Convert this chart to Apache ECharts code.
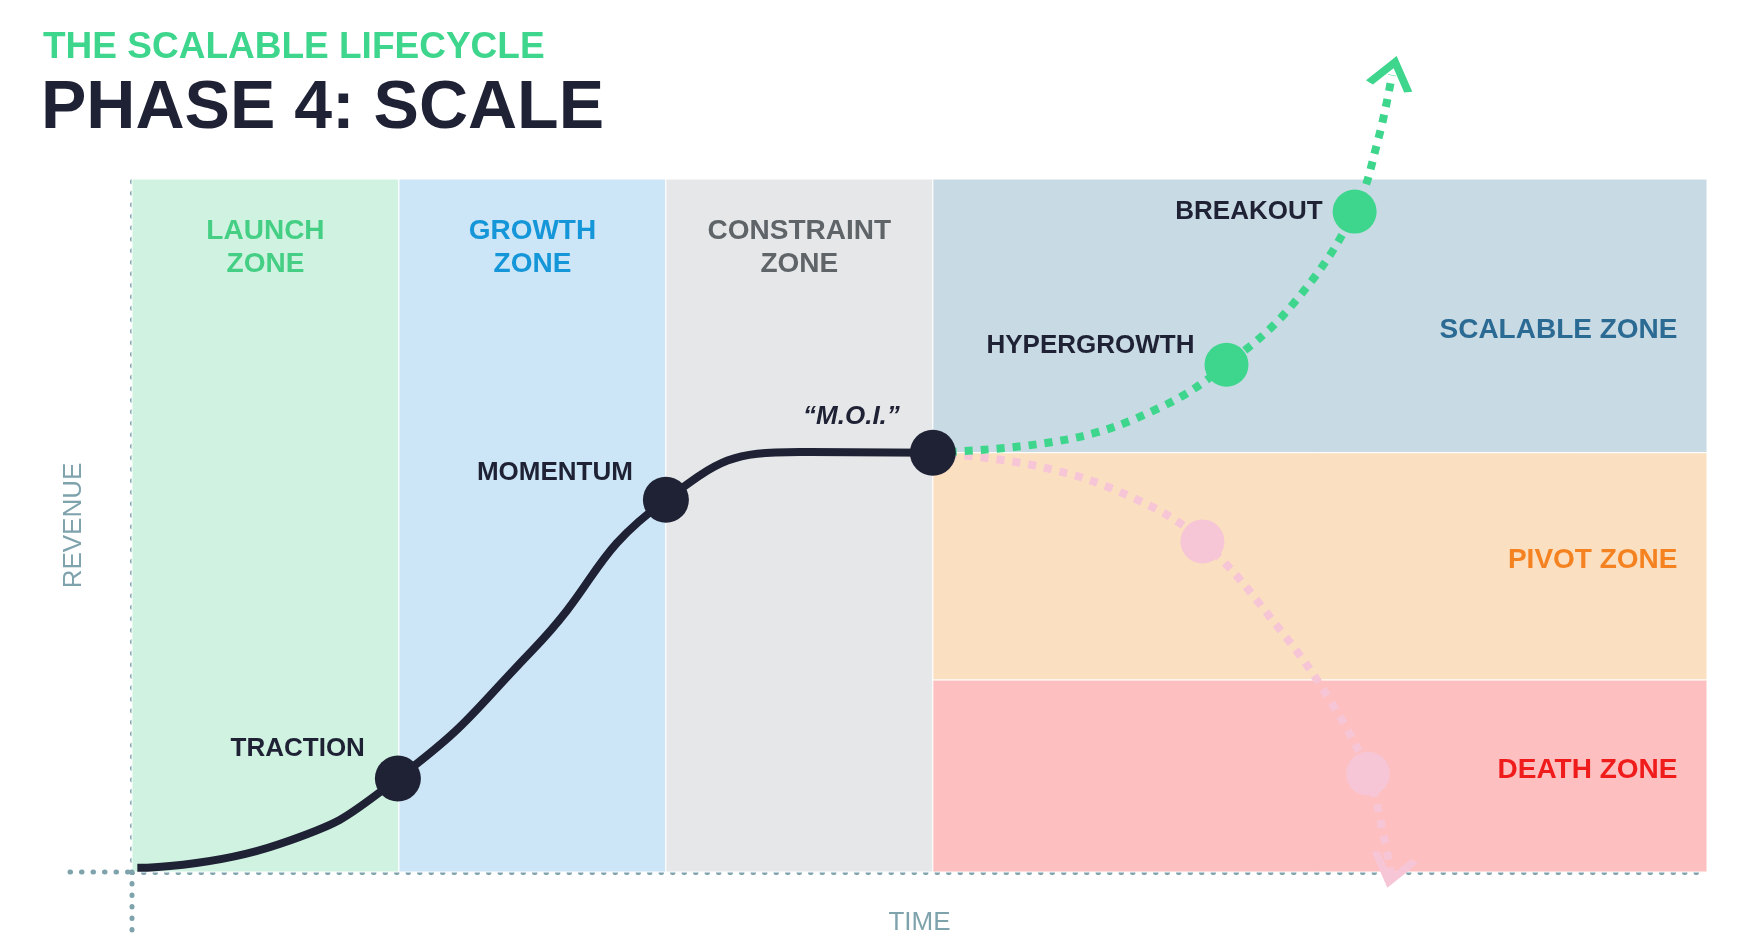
<!DOCTYPE html>
<html>
<head>
<meta charset="utf-8">
<script src="https://cdn.jsdelivr.net/npm/echarts@6/dist/echarts.min.js"></script>
<style>html,body{margin:0;padding:0;background:#fff}#chart{width:1744px;height:950px}</style>
</head>
<body>
<div id="chart"></div>
<script>
// zones along time axis
const columnZones = [
  { name: 'LAUNCH\nZONE', from: 0, to: 1, color: '#d0f3e1', text: '#45cf85' },
  { name: 'GROWTH\nZONE', from: 1, to: 2, color: '#cce6f7', text: '#1496d8' },
  { name: 'CONSTRAINT\nZONE', from: 2, to: 3, color: '#e6e7e9', text: '#5f6468' }
];
const rowZones = [
  { name: 'SCALABLE ZONE', from: 60.5, to: 100, color: '#c8dae4', text: '#2b6b93' },
  { name: 'PIVOT ZONE', from: 27.7, to: 60.5, color: '#fbdfc1', text: '#f58220' },
  { name: 'DEATH ZONE', from: 0, to: 27.7, color: '#fdbfbf', text: '#f01b1b' }
];
const rowZoneStart = 3;
const xMax = 5.9;

// main lifecycle curve
const mainCurve = [[0.02, 0.6], [0.55, 4], [0.996, 13.5], [1.5, 32], [2, 53.7], [2.5, 60.6], [3, 60.5]];
const mainPoints = [
  { name: 'TRACTION', value: [0.996, 13.5], dy: -30 },
  { name: 'MOMENTUM', value: [2, 53.7], dy: -27 },
  { name: '\u201cM.O.I.\u201d', value: [3, 60.5], dy: -36, italic: true }
];
// breakout path
const upCurve = [[3, 60.5], [3.5, 62.4], [3.85, 67], [4.1, 73.2], [4.35, 82], [4.58, 95.3], [4.67, 106], [4.72, 115]];
const upPoints = [
  { name: 'HYPERGROWTH', value: [4.1, 73.2], dy: -19 },
  { name: 'BREAKOUT', value: [4.58, 95.3], dy: 0 }
];
// decline path
const downCurve = [[3, 60.5], [3.4, 58.5], [3.75, 54], [4.01, 47.7], [4.3, 35], [4.5, 24], [4.63, 14.2], [4.69, 5], [4.72, -1]];
const downPoints = [[4.01, 47.7], [4.63, 14.2]];

const FONT = 'Liberation Sans';
const green = '#3dd68c', pink = '#f7c6d6', ink = '#1f2235', axisCol = '#7fa3ad';

const areas = columnZones.map(z => [
  { xAxis: z.from, yAxis: 0, itemStyle: { color: z.color, opacity: 1, borderColor: '#fff', borderWidth: 1 },
    label: { show: true, position: 'insideTop', distance: 36, formatter: z.name, color: z.text, fontSize: 28, fontWeight: 'bold', fontFamily: FONT, lineHeight: 33 } },
  { xAxis: z.to, yAxis: 100 }
]).concat(rowZones.map(z => [
  { xAxis: rowZoneStart, yAxis: z.from, itemStyle: { color: z.color, opacity: 1, borderColor: '#fff', borderWidth: 1 },
    label: { show: true, position: 'insideRight', distance: 30, offset: z.name === 'SCALABLE ZONE' ? [0, 14] : [0, -6], formatter: z.name, color: z.text, fontSize: 28, fontWeight: 'bold', fontFamily: FONT } },
  { xAxis: xMax, yAxis: z.to }
]));

const pointLabel = (dy, italic) => ({
  show: true, position: 'left', distance: 10, offset: [0, dy], formatter: '{b}',
  color: ink, fontSize: 26, fontWeight: 'bold', fontFamily: FONT, fontStyle: italic ? 'italic' : 'normal'
});

const chevron = 'path://M0,22 L16,0 L32,22 L16,0 Z';
const dotted = { color: axisCol, width: 5, type: [0.5, 11], cap: 'round' };

const chart = echarts.init(document.getElementById('chart'));
chart.setOption({
  animation: false,
  grid: { left: 132, right: 37, top: 179, bottom: 78 },
  title: [
    { text: 'THE SCALABLE LIFECYCLE', left: 38, top: 24, textStyle: { color: green, fontSize: 37, fontWeight: 'bold', fontFamily: FONT } },
    { text: 'PHASE 4: SCALE', left: 36, top: 70, textStyle: { color: ink, fontSize: 68, fontWeight: 'bold', fontFamily: FONT } }
  ],
  xAxis: {
    type: 'value', min: 0, max: xMax, name: 'TIME', nameLocation: 'middle', nameGap: 38,
    nameTextStyle: { color: axisCol, fontSize: 26, fontFamily: FONT },
    axisLine: { show: true, lineStyle: dotted },
    axisTick: { show: false }, axisLabel: { show: false }, splitLine: { show: false }
  },
  yAxis: {
    type: 'value', min: 0, max: 100, name: 'REVENUE', nameLocation: 'middle', nameGap: 45,
    nameTextStyle: { color: axisCol, fontSize: 26, fontFamily: FONT },
    axisLine: { show: true, lineStyle: dotted },
    axisTick: { show: false }, axisLabel: { show: false }, splitLine: { show: false }
  },
  graphic: [
    { type: 'line', z: 10, shape: { x1: 70, y1: 872, x2: 132, y2: 872 }, style: { stroke: axisCol, lineWidth: 5, lineDash: [0.5, 11], lineCap: 'round' } },
    { type: 'line', z: 10, shape: { x1: 132, y1: 872, x2: 132, y2: 935 }, style: { stroke: axisCol, lineWidth: 5, lineDash: [0.5, 11], lineCap: 'round' } }
  ],
  series: [
    { type: 'line', data: [], markArea: { silent: true, data: areas } },
    { type: 'line', data: downCurve, smooth: 0.4, symbol: 'none', clip: false, z: 3,
      lineStyle: { color: pink, width: 8, type: [8, 8] } },
    { type: 'line', data: upCurve, smooth: 0.4, symbol: 'none', clip: false, z: 3,
      lineStyle: { color: green, width: 8, type: [8, 8] } },
    { type: 'line', data: mainCurve, smooth: 0.5, symbol: 'none', z: 4,
      lineStyle: { color: ink, width: 8 } },
    { type: 'scatter', data: downPoints, symbolSize: 44, itemStyle: { color: pink, opacity: 1 }, z: 4 },
    { type: 'scatter', symbolSize: 44, itemStyle: { color: green, opacity: 1 }, z: 5,
      data: upPoints.map(p => ({ name: p.name, value: p.value, label: pointLabel(p.dy) })) },
    { type: 'scatter', symbolSize: 46, itemStyle: { color: ink, opacity: 1 }, z: 6,
      data: mainPoints.map(p => ({ name: p.name, value: p.value, label: pointLabel(p.dy, p.italic) })) },
    { type: 'scatter', clip: false, z: 6, symbol: chevron, symbolSize: [40, 26],
      itemStyle: { color: 'rgba(0,0,0,0)', borderWidth: 7, opacity: 1 },
      data: [
        { value: [4.72, 116.5], symbolRotate: -14, symbolOffset: [0, 10], itemStyle: { borderColor: green } },
        { value: [4.72, -1], symbolRotate: 166, symbolOffset: [0, -10], itemStyle: { borderColor: pink } }
      ] }
  ]
});
</script>
</body>
</html>
